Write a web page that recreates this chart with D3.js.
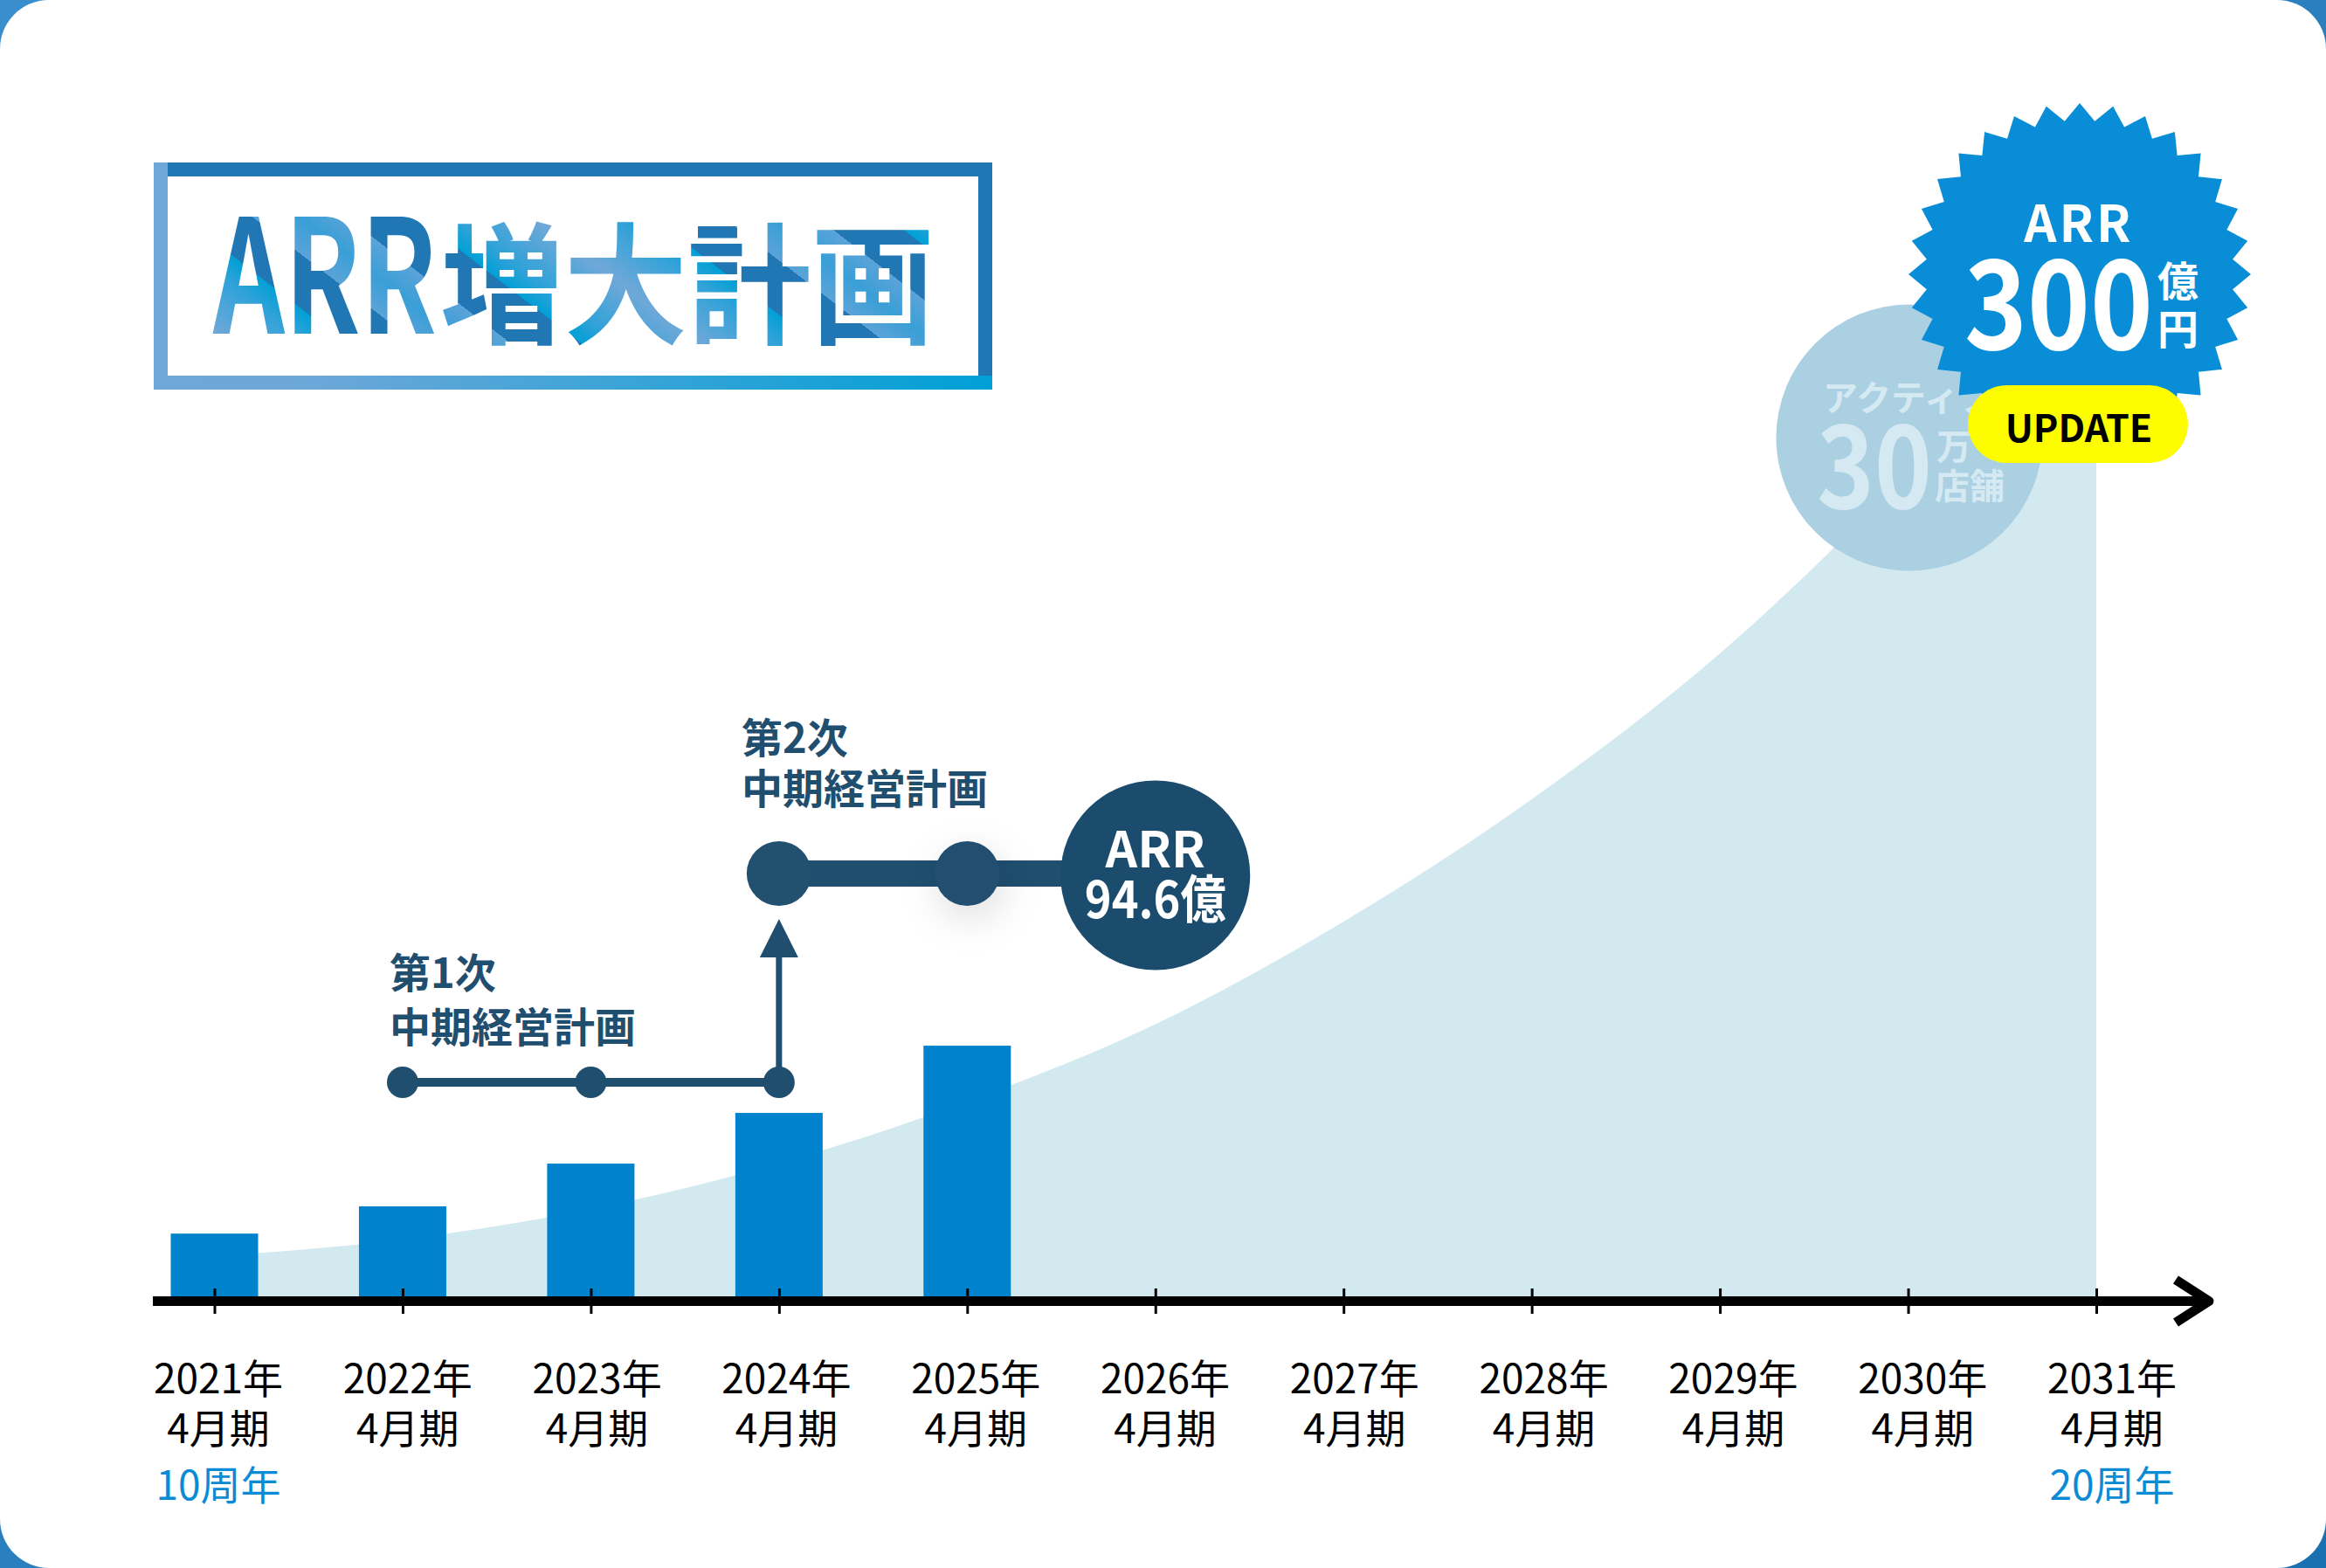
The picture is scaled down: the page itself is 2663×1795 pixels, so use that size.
<!DOCTYPE html>
<html><head><meta charset="utf-8">
<script src="https://cdn.jsdelivr.net/npm/d3@7/dist/d3.min.js"></script>
<style>html,body{margin:0;padding:0;background:#fff;} svg{display:block;}</style>
</head><body>
<svg id="chart" width="2663" height="1795"></svg>
<script>
// ---------------- data ----------------
const years = ["2021","2022","2023","2024","2025","2026","2027","2028","2029","2030","2031"];
const yearSuffix = "年";
const periodLabel = "4月期";
const anniversaryYears = ["2021","2031"];
const anniversaryLabels = ["10周年","20周年"];
const barYears = ["2021","2022","2023","2024","2025"];
const barValues = [18.2, 26.1, 38.5, 53.2, 72.7];              // 億円
const curveYears = years;
const curveValues = [11.7, 16.5, 25.3, 38.6, 56.5, 78.9, 108.7, 144.2, 186.5, 238.9, 300]; // plan curve
const plan1Years = ["2022","2023","2024"];
const plan1Label = ["第1次","中期経営計画"];
const plan2Years = ["2024","2025"];
const plan2Label = ["第2次","中期経営計画"];
const plan2TargetYear = "2026";
const plan2TargetText = ["ARR","94.6億"];
const goalText = ["ARR","300","億","円"];
const updateText = "UPDATE";
const storesText = ["アクティブ","30","万","店舗"];
const titleLatin = "ARR";
const titleCJK = "増大計画";

// ---------------- setup ----------------
const W = 2663, H = 1795;
const FONT = "'Noto Sans CJK JP','Noto Sans',sans-serif";
const NAVY = "#1f4e6f";
const svg = d3.select("#chart").style("font-family", FONT);
const defs = svg.append("defs");

const bg = defs.append("linearGradient").attr("id","bgGrad").attr("x1",0).attr("x2",1).attr("y1",0).attr("y2",1);
bg.append("stop").attr("offset",0).attr("stop-color","#3a8ecb");
bg.append("stop").attr("offset",1).attr("stop-color","#1b70b1");

const tg = defs.append("linearGradient").attr("id","titleGrad").attr("gradientUnits","userSpaceOnUse")
  .attr("x1",245).attr("y1",380).attr("x2",345).attr("y2",250).attr("spreadMethod","reflect");
[[0,"#6fa8d8"],[0.35,"#2ea2d8"],[0.5,"#00a0d6"],[0.5,"#2176b4"],[0.8,"#2176b4"],[0.8,"#5ba3d8"],[1,"#3a9fd7"]]
  .forEach(s=>tg.append("stop").attr("offset",s[0]).attr("stop-color",s[1]));

const bb = defs.append("linearGradient").attr("id","boxBottom").attr("x1",0).attr("x2",1).attr("y1",0).attr("y2",0);
bb.append("stop").attr("offset",0).attr("stop-color","#6fa8d8");
bb.append("stop").attr("offset",0.2).attr("stop-color","#6ba7d8");
bb.append("stop").attr("offset",1).attr("stop-color","#00a0d6");

const sh = defs.append("filter").attr("id","glow").attr("x","-200%").attr("y","-200%").attr("width","500%").attr("height","500%");
sh.append("feDropShadow").attr("dx",4).attr("dy",14).attr("stdDeviation",22).attr("flood-color","#000").attr("flood-opacity",0.13);

// background + card
svg.append("rect").attr("width",W).attr("height",H).attr("fill","url(#bgGrad)");
svg.append("rect").attr("width",W).attr("height",H).attr("rx",56).attr("ry",56).attr("fill","#fff");

// scales
const x = d3.scalePoint().domain(years).range([245.5, 2400]);
const xl = d3.scalePoint().domain(years).range([250, 2418]);
const y = d3.scaleLinear().domain([0, 300]).range([1484, 300]);

// plan area
const area = d3.area().x((d,i)=>x(curveYears[i])).y0(y(0)).y1(d=>y(d)).curve(d3.curveMonotoneX);
svg.append("path").datum(curveValues).attr("d", area).attr("fill","#d3e9f0");

// bars
const barW = 100;
svg.append("g").selectAll("rect").data(barValues).join("rect")
  .attr("x",(d,i)=>x(barYears[i]) - barW/2)
  .attr("y",d=>y(d)).attr("width",barW).attr("height",d=>y(0)-y(d))
  .attr("fill","#0082cc");

// axis line + arrow
const axisY = 1489.5;
svg.append("line").attr("x1",175).attr("x2",2528).attr("y1",axisY).attr("y2",axisY)
  .attr("stroke","#000").attr("stroke-width",11);
svg.append("polyline").attr("points",`2491,1465 2529,${axisY} 2491,1514`)
  .attr("fill","none").attr("stroke","#000").attr("stroke-width",11).attr("stroke-linejoin","round");

// ticks via d3 axis
const ax = svg.append("g").attr("transform","translate(0,1475)")
  .call(d3.axisBottom(x).tickSize(29).tickFormat(""));
ax.select(".domain").remove();
ax.selectAll(".tick line").attr("stroke","#000").attr("stroke-width",3);

// axis labels (one text element per category, lines as tspans)
const lab = svg.append("g").attr("font-size",46).attr("fill","#000").attr("text-anchor","middle");
years.forEach(yr=>{
  const t = lab.append("text").attr("x",xl(yr)).attr("y",1595);
  t.append("tspan").attr("x",xl(yr)).text(yr+yearSuffix);
  t.append("tspan").attr("x",xl(yr)).attr("dy",57).text(periodLabel);
  const ai = anniversaryYears.indexOf(yr);
  if (ai >= 0) t.append("tspan").attr("x",xl(yr)).attr("dy",65).attr("fill","#0a8bd6").text(anniversaryLabels[ai]);
});

// ---------------- plan 1 ----------------
const p1y = 1239;
svg.append("line").attr("x1",x(plan1Years[0])).attr("x2",x(plan1Years[plan1Years.length-1]))
  .attr("y1",p1y).attr("y2",p1y).attr("stroke",NAVY).attr("stroke-width",10);
svg.append("g").selectAll("circle").data(plan1Years).join("circle")
  .attr("cx",d=>x(d)).attr("cy",p1y).attr("r",18).attr("fill",NAVY);
const ax4 = x(plan1Years[plan1Years.length-1]);
svg.append("line").attr("x1",ax4).attr("x2",ax4).attr("y1",p1y).attr("y2",1092)
  .attr("stroke",NAVY).attr("stroke-width",7);
svg.append("path").attr("d",`M${ax4-22},1096 L${ax4+22},1096 L${ax4},1052 Z`).attr("fill",NAVY);
const t1 = svg.append("text").attr("font-size",47).attr("font-weight",700).attr("fill",NAVY).attr("y",1131);
t1.append("tspan").attr("x",446).text(plan1Label[0]);
t1.append("tspan").attr("x",446).attr("dy",62).text(plan1Label[1]);

// ---------------- plan 2 ----------------
const p2y = 1000;
const tx = x(plan2TargetYear);
svg.append("line").attr("x1",x(plan2Years[0])).attr("x2",tx).attr("y1",p2y).attr("y2",p2y)
  .attr("stroke",NAVY).attr("stroke-width",30);
svg.append("g").selectAll("circle").data(plan2Years).join("circle")
  .attr("cx",d=>x(d)).attr("cy",p2y).attr("r",37).attr("fill","#22506f")
  .attr("filter",(d,i)=>i===1?"url(#glow)":null);
svg.append("circle").attr("cx",tx).attr("cy",1002).attr("r",108.5).attr("fill","#1b4c6e");
const ct = svg.append("text").attr("y",993).attr("text-anchor","middle").attr("font-weight",700).attr("fill","#fff");
ct.append("tspan").attr("x",tx).attr("font-size",57).text(plan2TargetText[0]);
ct.append("tspan").attr("x",tx).attr("dy",58).attr("font-size",59)
  .attr("textLength",162).attr("lengthAdjust","spacingAndGlyphs").text(plan2TargetText[1]);
const t2 = svg.append("text").attr("font-size",47).attr("font-weight",700).attr("fill",NAVY).attr("y",862);
t2.append("tspan").attr("x",849).text(plan2Label[0]);
t2.append("tspan").attr("x",849).attr("dy",58).text(plan2Label[1]);

// ---------------- stores circle ----------------
svg.append("circle").attr("cx",2186).attr("cy",501).attr("r",152.5).attr("fill","#abd0e2");
const sc = svg.append("text").attr("fill","#d5e9f3").attr("font-weight",700).attr("y",470);
sc.append("tspan").attr("x",2087).attr("font-size",40).text(storesText[0]);
sc.append("tspan").attr("x",2080).attr("dy",112).attr("font-size",128)
  .attr("textLength",132).attr("lengthAdjust","spacingAndGlyphs").text(storesText[1]);
sc.append("tspan").attr("x",2217).attr("dy",-56).attr("font-size",40).text(storesText[2]);
sc.append("tspan").attr("x",2215).attr("dy",45).attr("font-size",40).text(storesText[3]);

// ---------------- starburst goal ----------------
const cx = 2381, cy = 314, rOut = 196, rIn = 176, nPts = 32;
const starPts = d3.range(nPts*2).map(k=>{
  const a = -Math.PI/2 + k*Math.PI/nPts;
  const r = k%2===0 ? rOut : rIn;
  return [cx + r*Math.cos(a), cy + r*Math.sin(a)];
});
svg.append("path").attr("d", d3.line()(starPts) + "Z").attr("fill","#0a8dd7");
const gt = svg.append("text").attr("fill","#fff").attr("font-weight",700).attr("y",277);
gt.append("tspan").attr("x",2380).attr("text-anchor","middle").attr("font-size",58)
  .attr("letter-spacing",3).text(goalText[0]);
gt.append("tspan").attr("x",2249).attr("dy",123).attr("font-size",142)
  .attr("textLength",216).attr("lengthAdjust","spacingAndGlyphs").text(goalText[1]);
gt.append("tspan").attr("x",2470).attr("dy",-61).attr("font-size",47).text(goalText[2]);
gt.append("tspan").attr("x",2470).attr("dy",55).attr("font-size",47).text(goalText[3]);

// UPDATE pill
svg.append("rect").attr("x",2253).attr("y",441).attr("width",252).attr("height",89)
  .attr("rx",44.5).attr("fill","#fdfd00");
svg.append("text").attr("x",2380).attr("y",506).attr("text-anchor","middle").attr("font-size",43)
  .attr("font-weight",700).attr("fill","#000").text(updateText);

// ---------------- title box ----------------
const tb = svg.append("g");
tb.append("rect").attr("x",176).attr("y",186).attr("width",960).attr("height",16).attr("fill","#2176b4");
tb.append("rect").attr("x",1120).attr("y",186).attr("width",16).attr("height",260).attr("fill","#2176b4");
tb.append("rect").attr("x",176).attr("y",186).attr("width",16).attr("height",260).attr("fill","#6fa8d8");
tb.append("rect").attr("x",176).attr("y",430).attr("width",960).attr("height",16).attr("fill","url(#boxBottom)");
const tt = tb.append("text").attr("y",382).attr("font-weight",700).attr("fill","url(#titleGrad)");
tt.append("tspan").attr("x",244).attr("font-size",181)
  .attr("textLength",256).attr("lengthAdjust","spacingAndGlyphs").text(titleLatin);
tt.append("tspan").attr("x",504).attr("font-size",150)
  .attr("textLength",566).attr("lengthAdjust","spacingAndGlyphs").text(titleCJK);
</script>
</body></html>
